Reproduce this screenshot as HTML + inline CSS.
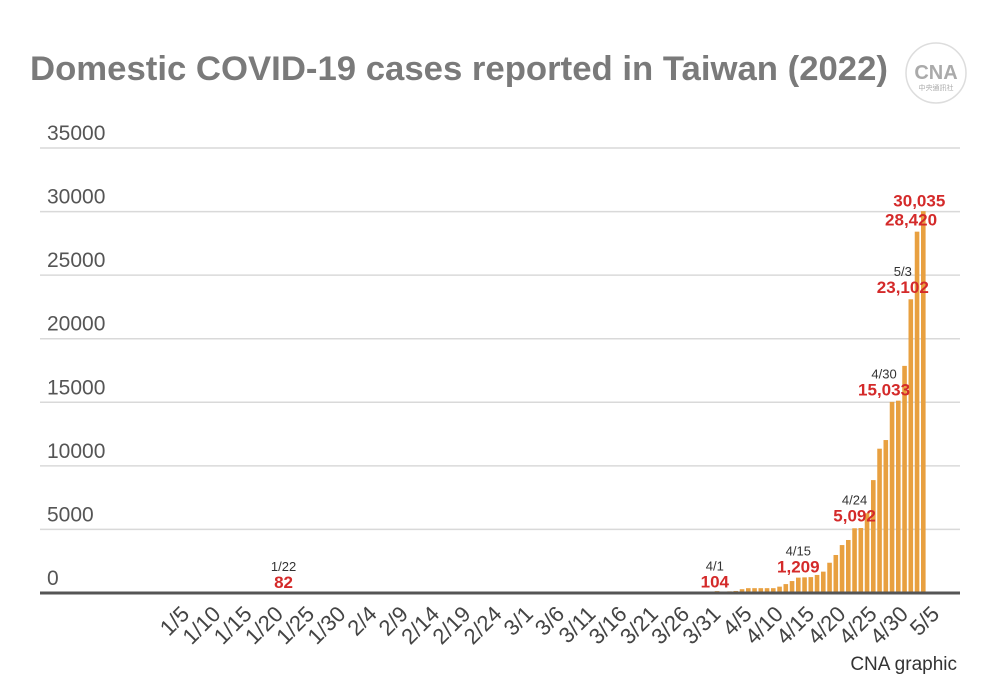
<!DOCTYPE html>
<html><head><meta charset="utf-8"><style>
body{margin:0;background:#fff;}
svg{display:block;font-family:"Liberation Sans",sans-serif;}
</style></head><body>
<svg id="chart" width="999" height="688" viewBox="0 0 999 688">
<text x="30" y="80" font-size="34" font-weight="bold" fill="#7a7a7a" textLength="858" lengthAdjust="spacingAndGlyphs">Domestic COVID-19 cases reported in Taiwan (2022)</text>
<g>
<circle cx="936" cy="73" r="30" fill="#fff" stroke="#ddd" stroke-width="1.5"/>
<text x="936" y="79" text-anchor="middle" font-size="20" font-weight="bold" fill="#aaa">CNA</text>
<text x="936" y="90" text-anchor="middle" font-size="7" fill="#aaa" font-family="'Noto Sans CJK TC',sans-serif">中央通訊社</text>
</g>
<g id="grid"></g><g id="bars"></g><g id="ann"></g><g id="xl"></g>
<text x="957" y="670" text-anchor="end" font-size="19" fill="#333">CNA graphic</text>
</svg>
<script>
const yTicks=[0,5000,10000,15000,20000,25000,30000,35000];
const xTickLabels=["1/5","1/10","1/15","1/20","1/25","1/30","2/4","2/9","2/14","2/19","2/24","3/1","3/6","3/11","3/16","3/21","3/26","3/31","4/5","4/10","4/15","4/20","4/25","4/30","5/5"];
const xTickDays=[4,9,14,19,24,29,34,39,44,49,54,59,64,69,74,79,84,89,94,99,104,109,114,119,124];
// cases by day index (0 = 1/1); zero otherwise
const caseDays=[21,84,85,86,87,88,89,90,91,92,93,94,95,96,97,98,99,100,101,102,103,104,105,106,107,108,109,110,111,112,113,114,115,116,117,118,119,120,121,122,123,124];
const caseValues=[82,40,20,60,60,60,70,104,150,110,130,160,300,380,380,380,380,380,500,700,940,1209,1230,1250,1420,1680,2380,2990,3770,4170,5092,5110,6270,8880,11350,12030,15033,15126,17863,23102,28420,30035];
const annDates=["1/22","4/1","4/15","4/24","4/30","5/3","",""];
const annValues=["82","104","1,209","5,092","15,033","23,102","28,420","30,035"];
const annDays=[21,90,104,113,119,122,123,124];
const annYVals=[82,104,1300,5300,15200,23300,28600,30100];

const NS="http://www.w3.org/2000/svg";
const x0=148.3, dx=6.25, yBase=593, yTop=148, yMax=35000;
const X=d=>x0+d*dx;
const Y=v=>yBase-(v/yMax)*(yBase-yTop);
function mk(t,a,p){const e=document.createElementNS(NS,t);for(const k in a)e.setAttribute(k,a[k]);p.appendChild(e);return e;}
const grid=document.getElementById('grid');
yTicks.forEach(v=>{
  if(v>0){const l=mk('line',{x1:40,x2:960,y1:Y(v),y2:Y(v),stroke:'#d9d9d9','stroke-width':1.5},grid);
  
  }
  const t=mk('text',{x:47,y:Y(v)-8,'font-size':21,fill:'#555'},grid);t.textContent=v;
  
  
});
const bars=document.getElementById('bars');
caseDays.forEach((d,i)=>{
  const v=caseValues[i];
  const r=mk('rect',{x:X(d)-2.3,y:Y(v),width:4.6,height:yBase-Y(v),fill:'#e8a040'},bars);
  
  
});
const base=mk('line',{x1:40,x2:960,y1:yBase,y2:yBase,stroke:'#555','stroke-width':3},bars);


const ann=document.getElementById('ann');
annDays.forEach((d,i)=>{
  const yy=Y(annYVals[i]);
  let cx=X(d);
  if(i===7)cx-=4; if(i===6)cx-=6; if(i===5)cx-=8; if(i===4)cx-=8;
  if(i<2)cx+=4;
  const v=mk('text',{x:cx,y:yy-4,'text-anchor':'middle','font-size':17,'font-weight':'bold',fill:'#d42a2a'},ann);
  v.textContent=annValues[i];
  
  
  if(annDates[i]){const t=mk('text',{x:cx,y:yy-21,'text-anchor':'middle','font-size':13,fill:'#333'},ann);
  t.textContent=annDates[i];
  
  }
});
const xl=document.getElementById('xl');
xTickDays.forEach((d,i)=>{
  const x=X(d)+6,y=604;
  const t=mk('text',{x:x,y:y,'text-anchor':'end','font-size':22,fill:'#444',transform:`rotate(-45 ${x} ${y})`,'dominant-baseline':'hanging'},xl);
  t.textContent=xTickLabels[i];
  
  
});
</script>
</body></html>
